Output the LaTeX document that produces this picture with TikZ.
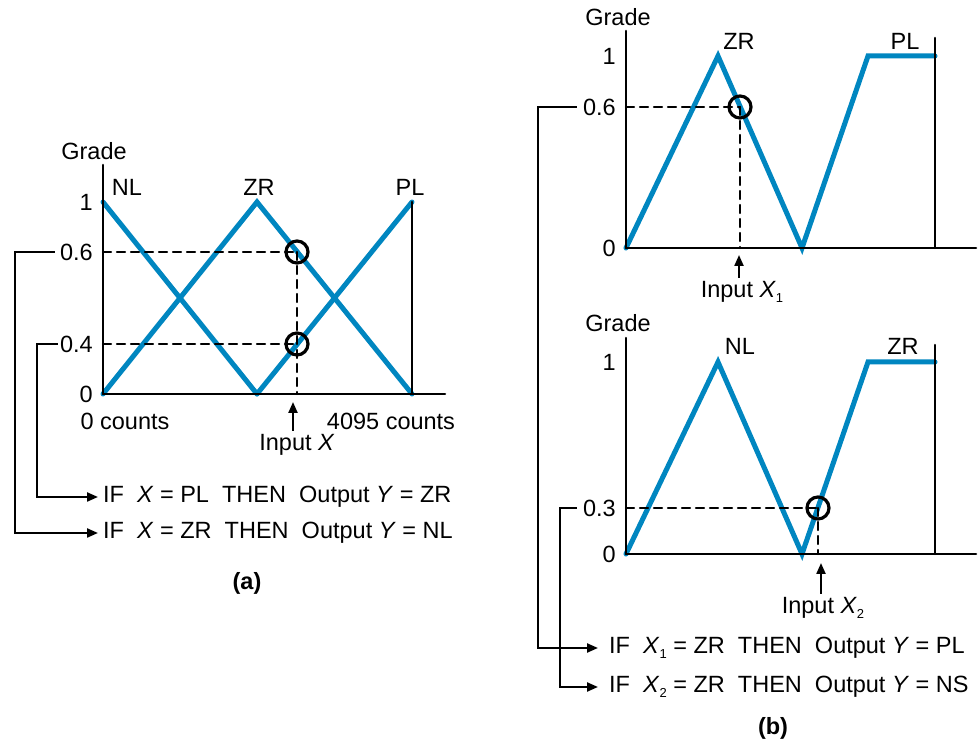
\documentclass[tikz,border=0pt]{standalone}
\usepackage{fontspec}
\setmainfont{Liberation Sans}
\usepackage{tikz}
\usetikzlibrary{calc, arrows.meta}
\usepackage{tkz-euclide}
\definecolor{gradeblue}{RGB}{0,134,192}
\newcommand{\Xsub}[1]{\textit{X}\raisebox{-0.45ex}{\fontsize{13}{13}\selectfont #1}}

\begin{document}
\begin{tikzpicture}[x=1pt, y=1pt, font=\fontsize{23.5}{28}\selectfont,
    axis/.style={line width=2.5pt},
    memb/.style={gradeblue, line width=5pt},
    guide/.style={line width=2.2pt, dash pattern=on 8pt off 6pt},
    hit/.style={line width=3.2pt},
    feed/.style={line width=2.2pt, -{Triangle[length=11pt, width=9pt]}},
    tick/.style={anchor=east, inner sep=0pt},
    rule/.style={anchor=west, inner ysep=3pt, inner xsep=5pt}]
      \useasboundingbox (0,0) rectangle (980,744);

      % 1. (a) 的座標軸與隸屬函數頂點
      \tkzDefPoint(103,350){Oa}
      \tkzDefPoint(103,579){Ta}
      \tkzDefPoint(445,350){Ea}
      \tkzDefPoint(412,542){Ra1}
      \tkzDefPoint(412,350){Ra0}
      \tkzDefPoint(103,542){Na1}
      \tkzDefPoint(257,542){Ma1}
      \tkzDefPoint(257,350){Ma0}

      % 2. 輸入 X 與 ZR, PL 的交點
      \tkzDefPoint(297,492){Pa6}
      \tkzDefPoint(297,400){Pa4}
      \tkzDefPoint(103,492){Ga6}
      \tkzDefPoint(103,400){Ga4}
      \tkzDefPoint(297,350){Fa}
      \tkzDefPoint(293,342){Ka}
      \tkzDefPoint(15,492){Ja6}
      \tkzDefPoint(37,400){Ja4}

      % 3. (b) 上圖 (X_1)
      \tkzDefPoint(626,496){Ob}
      \tkzDefPoint(626,713){Tb}
      \tkzDefPoint(976,496){Eb}
      \tkzDefPoint(935,706){Rb1}
      \tkzDefPoint(935,496){Rb0}
      \tkzDefPoint(718,688){Pb1}
      \tkzDefPoint(802,496){Pb2}
      \tkzDefPoint(868,688){Pb3}
      \tkzDefPoint(935,688){Pb4}
      \tkzDefPoint(740,637){Qb}
      \tkzDefPoint(626,637){Gb}
      \tkzDefPoint(740,496){Fb}
      \tkzDefPoint(739,489){Kb}
      \tkzDefPoint(538,637){Jb}

      % 4. (b) 下圖 (X_2)
      \tkzDefPoint(626,190){Oc}
      \tkzDefPoint(626,406){Tc}
      \tkzDefPoint(976,190){Ec}
      \tkzDefPoint(935,399){Rc1}
      \tkzDefPoint(935,190){Rc0}
      \tkzDefPoint(718,382){Pc1}
      \tkzDefPoint(802,190){Pc2}
      \tkzDefPoint(868,382){Pc3}
      \tkzDefPoint(935,382){Pc4}
      \tkzDefPoint(818,236){Qc}
      \tkzDefPoint(626,236){Gc}
      \tkzDefPoint(818,190){Fc}
      \tkzDefPoint(821,181){Kc}
      \tkzDefPoint(560,236){Jc}

      % 5. 隸屬函數
      \tkzDrawSegments[memb](Na1,Ma0 Ma0,Ra1)
      \tkzDrawPolySeg[memb](Oa,Ma1,Ra0)
      \tkzDrawPolySeg[memb](Ob,Pb1,Pb2,Pb3,Pb4)
      \tkzDrawPolySeg[memb](Oc,Pc1,Pc2,Pc3,Pc4)

      % 6. 座標軸
      \tkzDrawSegments[axis](Oa,Ta Oa,Ea Ra0,Ra1 Ob,Tb Ob,Eb Rb0,Rb1 Oc,Tc Oc,Ec Rc0,Rc1)
      \tkzDrawSegments[guide](Ga6,Pa6 Ga4,Pa4 Pa6,Fa Gb,Qb Qb,Fb Gc,Qc Qc,Fc)
      \draw[hit] (Pa6) circle[radius=11] (Pa4) circle[radius=11]
        (Qb) circle[radius=11] (Qc) circle[radius=11];

      % 7. 文字
      \node (GrA) at (94,593) {Grade};
      \node (NLa) at (127,557) {NL};
      \node (ZRa) at (259,557) {ZR};
      \node (PLa) at (410,557) {PL};
      \node[tick] (La1) at (93,542) {1};
      \node[tick] (La6) at (93,492) {0.6};
      \node[tick] (La4) at (93,400) {0.4};
      \node[tick] (La0) at (93,350) {0};
      \node (Ca0) at (125,323) {0 counts};
      \node (Ca1) at (391,323) {4095 counts};
      \node (InA) at (297,299) {Input \textit{X}};
      \node[rule] (Sa1) at (98,247) {IF\ \ \textit{X} = PL\ \ THEN\ \ Output \textit{Y} = ZR};
      \node[rule] (Sa2) at (98,211) {IF\ \ \textit{X} = ZR\ \ THEN\ \ Output \textit{Y} = NL};
      \node[font=\fontsize{23.5}{28}\selectfont\bfseries] (CapA) at (247,161) {(a)};

      \node (GrB) at (618,727) {Grade};
      \node (ZRb) at (739,703) {ZR};
      \node (PLb) at (905,703) {PL};
      \node[tick] (Lb1) at (616,688) {1};
      \node[tick] (Lb6) at (616,637) {0.6};
      \node[tick] (Lb0) at (616,496) {0};
      \node (InB) at (742,452) {Input \Xsub{1}};

      \node (GrC) at (618,421) {Grade};
      \node (NLc) at (740,398) {NL};
      \node (ZRc) at (903,398) {ZR};
      \node[tick] (Lc1) at (616,382) {1};
      \node[tick] (Lc3) at (616,236) {0.3};
      \node[tick] (Lc0) at (616,190) {0};
      \node (InC) at (823,136) {Input \Xsub{2}};
      \node[rule, inner xsep=11pt] (Sb1) at (598,96) {IF\ \ \Xsub{1} = ZR\ \ THEN\ \ Output \textit{Y} = PL};
      \node[rule, inner xsep=11pt] (Sb2) at (598,57) {IF\ \ \Xsub{2} = ZR\ \ THEN\ \ Output \textit{Y} = NS};
      \node[font=\fontsize{23.5}{28}\selectfont\bfseries] (CapB) at (773,16) {(b)};

      % 8. 箭頭
      \draw[feed] (Ka |- InA.north) -- (Ka);
      \draw[feed] (Kb |- InB.north) -- (Kb);
      \draw[feed] (Kc |- InC.north) -- (Kc);
      \draw[feed] ([xshift=-5pt]La6.west) -- (Ja6) |- (Sa2.west);
      \draw[feed] ([xshift=-2pt]La4.west) -- (Ja4) |- (Sa1.west);
      \draw[feed] ([xshift=-6pt]Lb6.west) -- (Jb) |- (Sb1.west);
      \draw[feed] ([xshift=-6pt]Lc3.west) -- (Jc) |- (Sb2.west);
    \end{tikzpicture}
\end{document}
